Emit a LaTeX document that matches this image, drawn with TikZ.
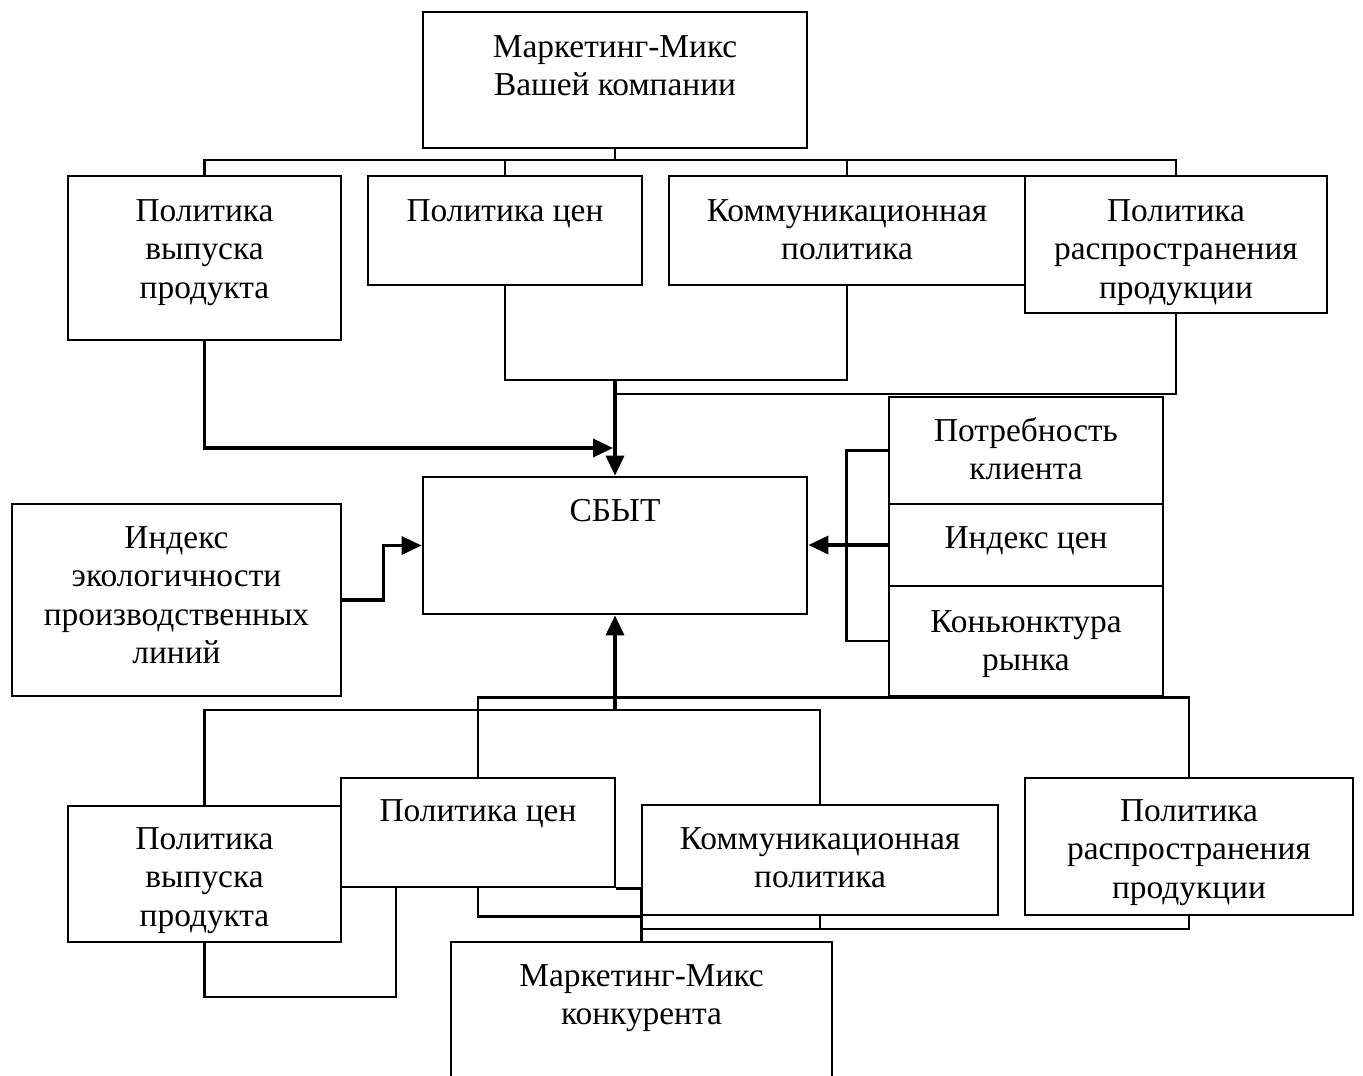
\documentclass[tikz,border=0pt]{standalone}
\usepackage{fontspec}
\setmainfont{Liberation Serif}
\usetikzlibrary{arrows.meta,fit}

\tikzset{
	blk/.style={draw, line width=1.4pt, inner sep=0pt, rectangle},
	txt/.style={anchor=north, align=center, inner sep=0pt, font=\fontsize{16.7pt}{19.2pt}\selectfont},
	lnk/.style={line width=1.4pt},
	arr/.style={line width=1.8pt, -{Triangle[length=10pt,width=9pt]}}
}

\begin{document}
\begin{tikzpicture}[x=0.5pt,y=-0.5pt]
	\useasboundingbox (0,0) rectangle (1363,1075);
	\clip (0,0) rectangle (1363,1075);
	% boxes
	\node[blk, fit={(423,12) (807,148)}] (mmv) {};
	\node[blk, fit={(68,176) (341,340)}] (a1) {};
	\node[blk, fit={(368,176) (642,285)}] (a2) {};
	\node[blk, fit={(669,176) (1025,285)}] (a3) {};
	\node[blk, fit={(1025,176) (1327,313)}] (a4) {};
	\node[blk, fit={(423,477) (807,614)}] (sbyt) {};
	\node[blk, fit={(12,504) (341,696)}] (eco) {};
	\node[blk, fit={(889,397) (1163,504)}] (need) {};
	\node[blk, fit={(889,504) (1163,586)}] (pidx) {};
	\node[blk, fit={(889,586) (1163,696)}] (conj) {};
	\node[blk, fit={(68,806) (341,942)}] (b1) {};
	\node[blk, fit={(341,778) (615,887)}] (b2) {};
	\node[blk, fit={(642,805) (998,915)}] (b3) {};
	\node[blk, fit={(1025,778) (1353,915)}] (b4) {};
	\node[blk, fit={(451,942) (832,1100)}] (mmk) {};
	% texts
	\node[txt] (mmvt) at (615,35) {Маркетинг-Микс\\Вашей компании};
	\node[txt] (a1t) at (204.5,199) {Политика\\выпуска\\продукта};
	\node[txt] (a2t) at (505,199) {Политика цен};
	\node[txt] (a3t) at (847,199) {Коммуникационная\\политика};
	\node[txt] (a4t) at (1176,199) {Политика\\распространения\\продукции};
	\node[txt] (sbytt) at (615,499) {СБЫТ};
	\node[txt] (ecot) at (176.5,526) {Индекс\\экологичности\\производственных\\линий};
	\node[txt] (needt) at (1026,417) {Потребность\\клиента};
	\node[txt] (pidxt) at (1026,526) {Индекс цен};
	\node[txt] (conjt) at (1026,610) {Коньюнктура\\рынка};
	\node[txt] (b1t) at (204.5,827) {Политика\\выпуска\\продукта};
	\node[txt] (b2t) at (478,799) {Политика цен};
	\node[txt] (b3t) at (820,827) {Коммуникационная\\политика};
	\node[txt] (b4t) at (1189,799) {Политика\\распространения\\продукции};
	\node[txt] (mmkt) at (641.5,964) {Маркетинг-Микс\\конкурента};
	% upper tree
	\coordinate (tbus) at (615,160);
	\draw[lnk] (mmv.south) -- (tbus);
	\draw[lnk] (a1.north) |- (tbus) -| (a4.north);
	\draw[lnk] (a2.north) -- (a2.north |- tbus);
	\draw[lnk] (a3.north) -- (a3.north |- tbus);
	\coordinate (tjoin) at (615,380);
	\coordinate (djoin) at (615,394);
	\coordinate (ajoin) at (613,448);
	\draw[lnk] (a2.south) |- (tjoin) -| (a3.south);
	\draw[lnk] (a4.south) |- (djoin);
	\draw[arr] (tjoin) -- (sbyt.north);
	\draw[arr] (a1.south) |- (ajoin);
	% side inputs
	\draw[lnk] (need.west) -- ++(-41,0) |- (conj.west);
	\draw[arr] (pidx.west) -- (sbyt.east |- pidx.west);
	\draw[arr] (eco.east) -- ++(41,0) |- (sbyt.west);
	% lower tree
	\coordinate (bbus) at (615,710);
	\draw[arr] (bbus) -- (sbyt.south);
	\draw[lnk] (b1.north) |- (bbus) -| (b3.north);
	\draw[lnk] (b2.north) |- (conj.south) -| (b4.north);
	\coordinate (lp) at (396,997);
	\draw[lnk] (b1.south) |- (lp) -- (lp |- b2.south);
	\draw[lnk] (b2.south) |- (mmk.north |- b3.south);
	\draw[lnk] (mmk.north) |- (b2.south east);
	\coordinate (kbus) at (641.5,929);
	\draw[lnk] (kbus) -| (b4.south);
	\draw[lnk] (b3.south) -- (b3.south |- kbus);
\end{tikzpicture}
\end{document}
